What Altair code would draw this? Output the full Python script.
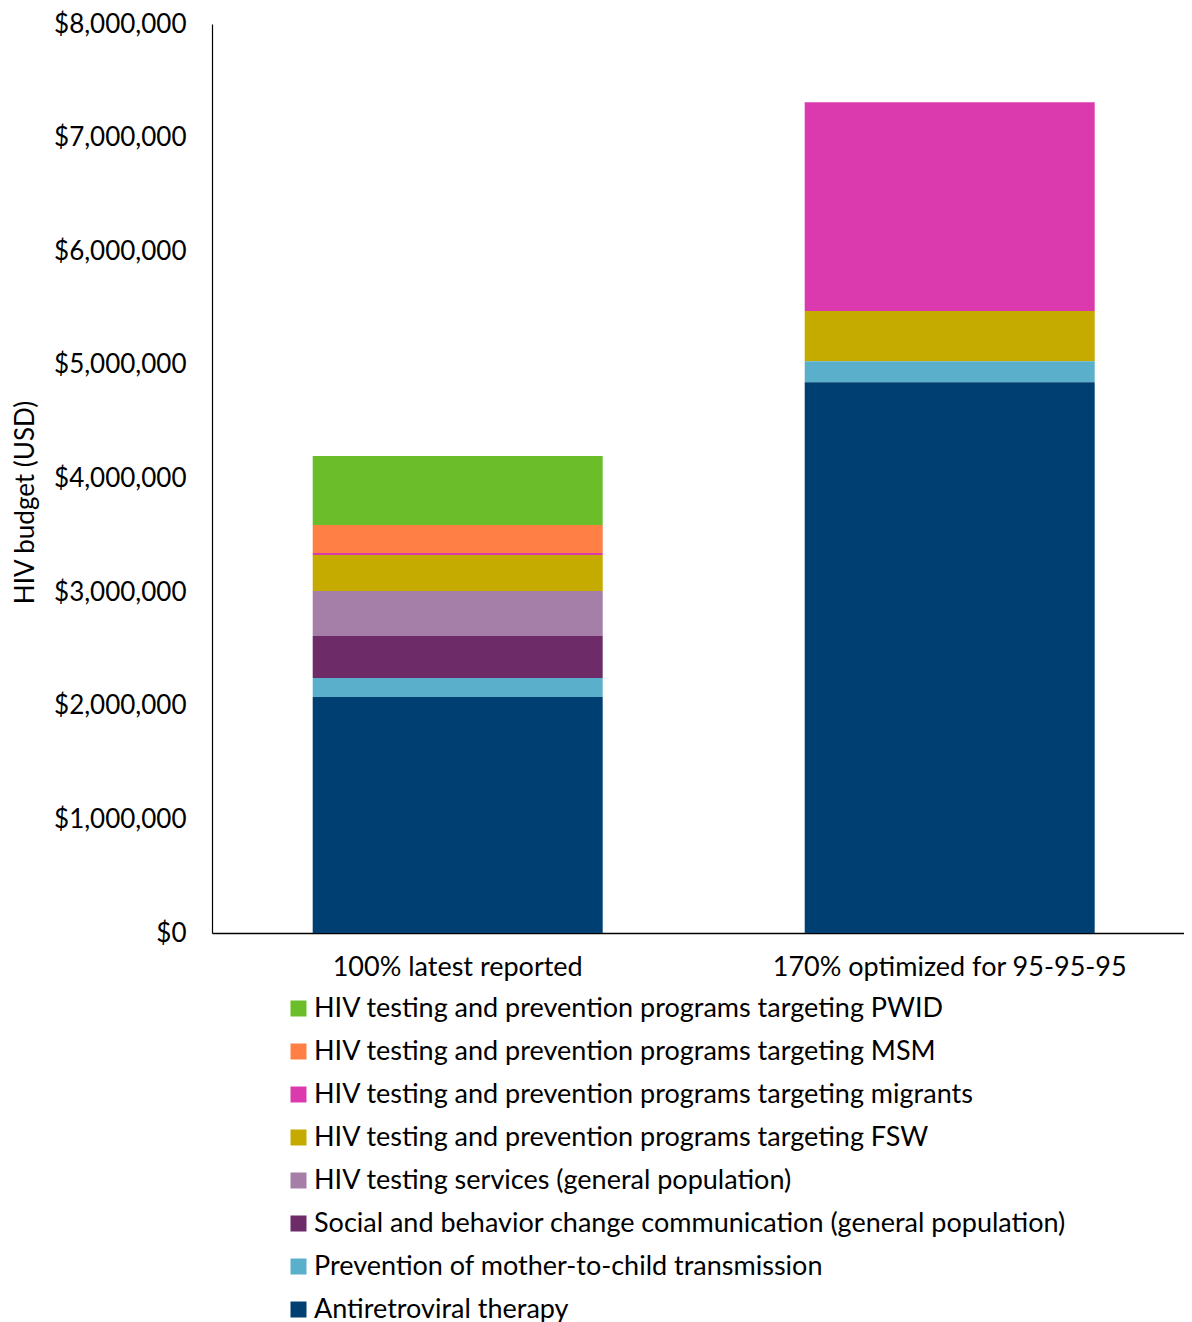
import altair as alt
import pandas as pd

scenarios = ["100% latest reported", "170% optimized for 95-95-95"]
programs = [
    "HIV testing and prevention programs targeting PWID",
    "HIV testing and prevention programs targeting MSM",
    "HIV testing and prevention programs targeting migrants",
    "HIV testing and prevention programs targeting FSW",
    "HIV testing services (general population)",
    "Social and behavior change communication (general population)",
    "Prevention of mother-to-child transmission",
    "Antiretroviral therapy",
]
colors = ["#6BBE2A", "#FF7F45", "#DB3AAF", "#C5AB00", "#A67FA8", "#6D2B68", "#5AAFCB", "#003F72"]
latest = [607000, 246000, 18000, 317000, 396000, 370000, 167000, 2077000]
optimized = [0, 0, 1838000, 443000, 0, 0, 184000, 4847000]

rows = []
for i, p in enumerate(programs):
    rows.append({"scenario": scenarios[0], "program": p, "value": latest[i], "ord": len(programs) - i})
    rows.append({"scenario": scenarios[1], "program": p, "value": optimized[i], "ord": len(programs) - i})
df = pd.DataFrame(rows)

FONT = "Lato"

chart = alt.Chart(df).mark_bar(strokeWidth=0).encode(
    x=alt.X("scenario:N", sort=scenarios, title=None,
            scale=alt.Scale(paddingInner=0.4106, paddingOuter=0.1931, align=0.53),
            axis=alt.Axis(labelAngle=0, labelFontSize=27, labelFont=FONT, labelColor="black",
                          domainColor="black", domainWidth=1.5, ticks=False, labelPadding=21,
                          labelLimit=0)),
    y=alt.Y("value:Q", stack="zero", title="HIV budget (USD)",
            scale=alt.Scale(domain=[0, 8000000], nice=False),
            axis=alt.Axis(values=list(range(0, 8000001, 1000000)), format="$,.0f",
                          labelFontSize=26, labelFont=FONT, labelColor="black",
                          grid=False, ticks=False, labelPadding=26,
                          domainColor="black", domainWidth=1.2,
                          titleFont=FONT, titleFontSize=26, titleFontWeight="normal",
                          titleColor="black", titleX=-187, titleY=478,
                          titleBaseline="middle")),
    color=alt.Color("program:N", scale=alt.Scale(domain=programs, range=colors),
                    legend=alt.Legend(title=None, orient="none", legendX=73, legendY=971,
                                      direction="vertical", columns=1,
                                      symbolType="square", symbolSize=256, symbolStrokeWidth=0,
                                      symbolOpacity=1,
                                      labelFont=FONT, labelFontSize=27, labelColor="black",
                                      labelOffset=2, rowPadding=15, padding=0,
                                      labelLimit=1000)),
    order=alt.Order("ord:Q", sort="ascending"),
).properties(
    width=972, height=909,
    autosize=alt.AutoSizeParams(type="none"),
    padding={"left": 204, "top": 16, "right": 0, "bottom": 390},
).configure_view(stroke=None)

chart.save("out.html", embed_options={"renderer": "svg", "actions": False})
